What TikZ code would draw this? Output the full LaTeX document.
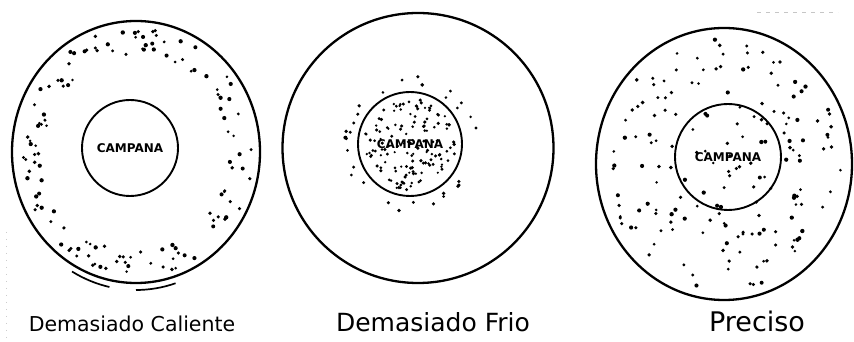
\documentclass[tikz,border=0pt]{standalone}
\usepackage{fontspec}
\setmainfont{DejaVu Sans}
\usetikzlibrary{shapes.geometric, calc}

\tikzset{
  kettle/.style={draw, ellipse, line width=2.3pt, inner sep=0pt},
  bell/.style={draw, circle, line width=1.9pt, inner sep=0pt,
               font=\bfseries\fontsize{12}{14}\selectfont},
  caption/.style={anchor=base, inner sep=0pt, font=\fontsize{25}{30}\selectfont},
  grain/.style={fill=black}
}

\begin{document}
\begin{tikzpicture}[x=1pt, y=1pt]
    \useasboundingbox (0,0) rectangle (854,342);
    \pgfmathsetseed{4711}

    % Panel 1: too hot
    \begin{scope}[shift={(136,190)}]
      \node[kettle, minimum width=248pt, minimum height=262pt] (hotPot) at (0,0) {};
      \node[bell, minimum size=96pt] (hotBell) at (-6,4) {CAMPANA};
      \draw[line width=1.7pt] (240:128 and 138) arc (240:258:128 and 138);
      \draw[line width=1.7pt] (270:128 and 138) arc (270:288:128 and 138);
      \foreach \i in {1,...,130}{
        \pgfmathsetmacro\ang{rnd*360}
        \pgfmathsetmacro\rad{0.76+0.2*rnd}
        \pgfmathsetmacro\rx{\rad*122}
        \pgfmathsetmacro\ry{\rad*129}
        \pgfmathsetmacro\ds{1.4+0.8*rnd}
        \fill[grain] (\ang:\rx\space and \ry) circle (\ds pt);
      }
    \end{scope}

    % Panel 2: too cold
    \begin{scope}[shift={(418,194)}]
      \node[kettle, minimum width=271pt, minimum height=270pt] (coldPot) at (0,0) {};
      \node[bell, minimum size=104pt] (coldBell) at (-8,4) {CAMPANA};
      \foreach \i in {1,...,140}{
        \pgfmathsetmacro\ang{rnd*360}
        \pgfmathsetmacro\rad{46*sqrt(rnd)}
        \pgfmathsetmacro\ds{1.2+0.6*rnd}
        \fill[grain] ($(-8,4)+(\ang:\rad)$) circle (\ds pt);
      }
      \foreach \i in {1,...,30}{
        \pgfmathsetmacro\ang{rnd*360}
        \pgfmathsetmacro\rad{58+10*rnd}
        \pgfmathsetmacro\ds{1.4+0.6*rnd}
        \fill[grain] ($(-8,4)+(\ang:\rad)$) circle (\ds pt);
      }
    \end{scope}

    % Panel 3: just right
    \begin{scope}[shift={(724,178)}]
      \node[kettle, minimum width=256pt, minimum height=272pt] (okPot) at (0,0) {};
      \node[bell, minimum size=106pt] (okBell) at (4,7) {CAMPANA};
      \foreach \i in {1,...,170}{
        \pgfmathsetmacro\ang{rnd*360}
        \pgfmathsetmacro\rad{sqrt(rnd)}
        \pgfmathsetmacro\rx{\rad*118}
        \pgfmathsetmacro\ry{\rad*126}
        \pgfmathsetmacro\ds{1.4+0.8*rnd}
        \fill[grain] (\ang:\rx\space and \ry) circle (\ds pt);
      }
    \end{scope}

    % Captions
    \node[caption, font=\fontsize{20.5}{24}\selectfont] (hotText) at (132,10) {Demasiado Caliente};
    \node[caption] (coldText) at (433,10) {Demasiado Frio};
    \node[caption, font=\fontsize{27}{30}\selectfont] (okText) at (757,10) {Preciso};

    % scan marks
    \draw[gray!45, line width=1pt, dash pattern=on 4pt off 5pt] (757,329) -- (838,329);
    \draw[gray!40, line width=0.8pt, dash pattern=on 1pt off 6pt] (6,110) -- (6,0);
\end{tikzpicture}
\end{document}
